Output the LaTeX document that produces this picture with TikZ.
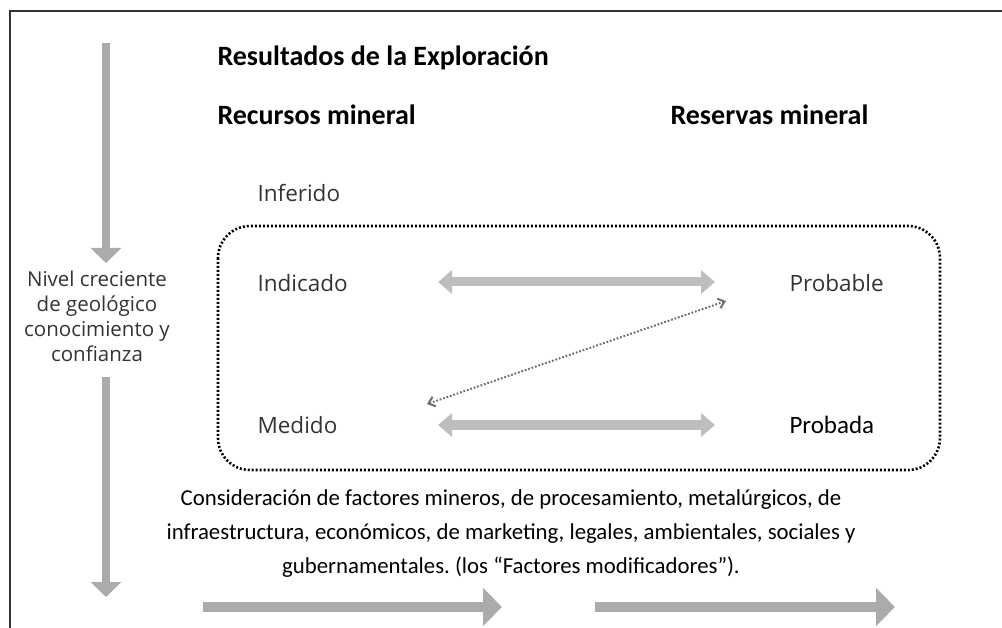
\documentclass[tikz,border=0pt]{standalone}
\usepackage{fontspec}
\setmainfont{Carlito}
\newfontfamily\osans{Open Sans}
\usetikzlibrary{arrows.meta}
\definecolor{flecha}{HTML}{ABABAB}
\definecolor{flechaclara}{HTML}{BEBEBE}
\definecolor{textogris}{HTML}{333333}
\definecolor{punteado}{HTML}{6E6E6E}
\tikzset{
  titulo/.style={anchor=west,font=\bfseries\fontsize{28}{33}\selectfont},
  nivel/.style={anchor=west,text=textogris,font=\osans\fontsize{22.5}{27}\selectfont},
  bajar/.style={flecha,line width=8pt,-{Triangle[width=30pt,length=15pt]}},
  avanzar/.style={flecha,line width=10pt,-{Triangle[width=37pt,length=19pt]}},
  ambas/.style={flechaclara,line width=9pt,{Triangle[width=23pt,length=14pt]}-{Triangle[width=23pt,length=14pt]}}
}
\begin{document}
\frenchspacing
\begin{tikzpicture}[x=1pt,y=-1pt]
\useasboundingbox (0,0) rectangle (1002,628);
\draw[textogris,line width=2.4pt] (1002,11) -- (10,11) -- (10,628);
\node[titulo] (res) at (214,58) {Resultados de la Exploración};
\node[titulo] (rec) at (214,115) {Recursos mineral};
\node[titulo] (rsv) at (667,115) {Reservas mineral};
\node[nivel] (inf) at (254,193) {Inferido};
\node[nivel] (ind) at (254,283) {Indicado};
\node[nivel] (prb) at (786,283) {Probable};
\node[nivel] (med) at (254,425) {Medido};
\node[anchor=west,font=\fontsize{25}{30}\selectfont] (pda) at (786,425) {Probada};
\node[align=center,text=textogris,font=\osans\fontsize{20.5}{25}\selectfont] (niv) at (97,316)
  {Nivel creciente\\de geológico\\conocimiento y\\confianza};
\node[align=center,font=\fontsize{22.8}{34}\selectfont] (fac) at (511,534)
  {Consideración de factores mineros, de procesamiento, metalúrgicos, de\\
   infraestructura, económicos, de marketing, legales, ambientales, sociales y\\
   gubernamentales. (los “Factores modificadores”).};
\draw[line width=2.6pt,dash pattern=on 2pt off 2pt,rounded corners=32pt] (218,226) rectangle (940,470);
\coordinate (v1) at (106,43);
\coordinate (v2) at (106,263);
\coordinate (v3) at (106,377);
\coordinate (v4) at (106,597);
\draw[bajar] (v1) -- (v2);
\draw[bajar] (v3) -- (v4);
\coordinate (h1) at (203,607);
\coordinate (h2) at (502,607);
\coordinate (h3) at (595,607);
\coordinate (h4) at (895,607);
\draw[avanzar] (h1) -- (h2);
\draw[avanzar] (h3) -- (h4);
\coordinate (a1) at (438,282);
\coordinate (a2) at (715,282);
\coordinate (a3) at (438,425);
\coordinate (a4) at (715,425);
\draw[ambas] (a1) -- (a2);
\draw[ambas] (a3) -- (a4);
\coordinate (d1) at (427,404);
\coordinate (d2) at (726,301);
\draw[punteado,line width=2pt,dash pattern=on 1.8pt off 1.8pt,{Straight Barb[length=6pt,width=10pt]}-{Straight Barb[length=6pt,width=10pt]}] (d1) -- (d2);
\end{tikzpicture}
\end{document}
